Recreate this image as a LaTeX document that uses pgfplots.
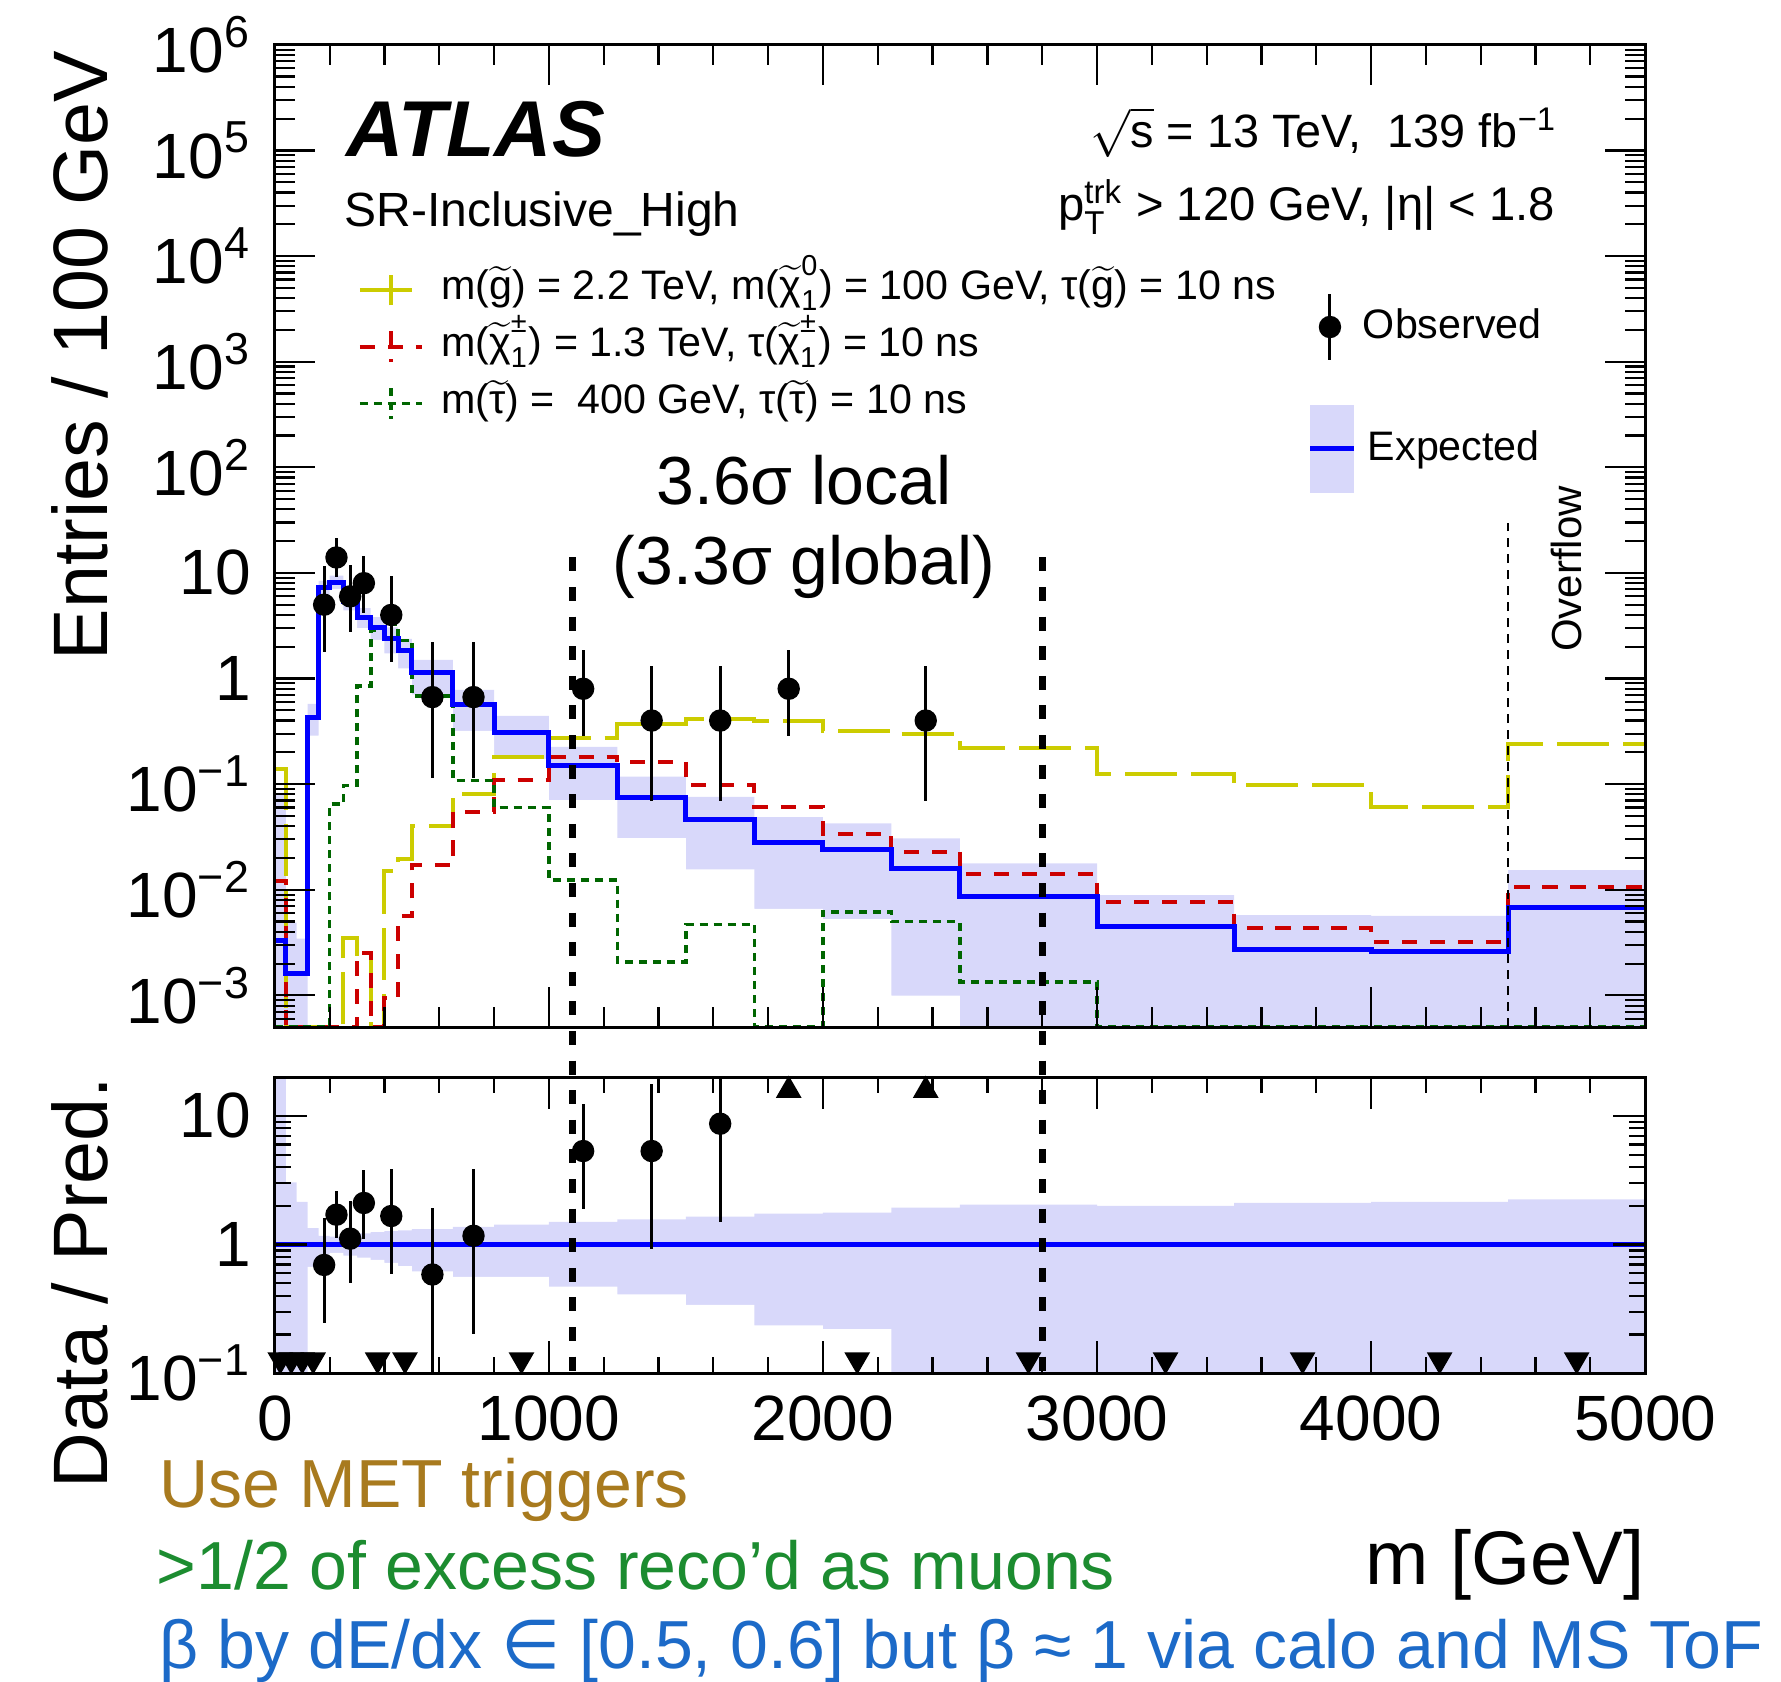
\documentclass[border=0pt]{standalone}
\usepackage{amsmath}
\usepackage{fontspec}
\setmainfont{Liberation Sans}
\newfontfamily\symfont{DejaVu Sans}
\usepackage{pgfplots}
\pgfplotsset{compat=1.18}
\usepackage{pgfplotstable}

\definecolor{bandfill}{RGB}{216,216,250}
\definecolor{sigyellow}{RGB}{204,204,0}
\definecolor{sigred}{RGB}{204,0,0}
\definecolor{siggreen}{RGB}{0,102,0}
\definecolor{txtgold}{RGB}{168,122,30}
\definecolor{txtgreen}{RGB}{28,140,48}
\definecolor{txtblue}{RGB}{28,106,200}

\newcommand\lgfont{\fontsize{10.3}{12}\selectfont}
\newcommand\sq[1]{$\widetilde{\text{#1}}$}

% bin low edges (GeV), expected yield, relative band (up/down), signals; per 100 GeV
\pgfplotstableread{
lo   exp      rup   rdn    gl      ch       st
0    0.0033   25    0.001  0.14    0.0122   0.0005
40   0.0016   3.05  0.001  0.0005  0.0005   0.0005
80   0.0016   2.15  0.001  0.0005  0.0005   0.0005
120  0.43     1.34  0.67   0.0005  0.0005   0.0005
160  7.2      1.17  0.84   0.0005  0.0005   0.0005
200  8.2      1.15  0.86   0.0005  0.0005   0.065
250  5.4      1.20  0.82   0.0035  0.0005   0.097
300  3.8      1.22  0.79   0.0023  0.0025   0.85
350  3.05     1.25  0.76   0.0005  0.0005   2.84
400  2.4      1.27  0.72   0.0151  0.00094  3.3
450  1.84     1.29  0.68   0.0195  0.0056   2.3
500  1.14     1.32  0.62   0.040   0.017    0.68
650  0.57     1.37  0.56   0.081   0.055    0.108
800  0.31     1.43  0.56   0.18    0.109    0.060
1000 0.15     1.50  0.47   0.274   0.18     0.0123
1250 0.075    1.57  0.41   0.37    0.163    0.00207
1500 0.046    1.65  0.34   0.41    0.099    0.0047
1750 0.028    1.74  0.235  0.40    0.061    0.0005
2000 0.024    1.77  0.22   0.318   0.034    0.0062
2250 0.0158   1.94  0.063  0.30    0.023    0.0050
2500 0.0087   2.04  0.001  0.218   0.0141   0.00134
3000 0.00445  2.00  0.001  0.124   0.0077   0.0005
3500 0.00273  2.11  0.001  0.0975  0.0043   0.0005
4000 0.00263  2.15  0.001  0.0607  0.0032   0.0005
4500 0.00684  2.24  0.001  0.24    0.0107   0.0005
5000 0.00684  2.24  0.001  0.24    0.0107   0.0005
}\bins

% observed entries per 100 GeV with asymmetric Poisson errors
\pgfplotstableread{
x    y      em     ep
180  5      3.23   6.6
225  14     4.84   7.54
275  6      3.27   5.84
325  8      3.82   6.32
425  4      2.58   5.28
575  0.667  0.552  1.533
725  0.667  0.552  1.533
1125 0.8    0.517  1.056
1375 0.4    0.331  0.92
1625 0.4    0.331  0.92
1875 0.8    0.517  1.056
2375 0.4    0.331  0.92
}\obs

% data / prediction
\pgfplotstableread{
x    r      em     ep
180  0.694  0.448  0.917
225  1.707  0.590  0.920
275  1.111  0.605  1.082
325  2.105  1.005  1.663
425  1.667  1.075  2.200
575  0.585  0.484  1.345
725  1.170  0.968  2.690
1125 5.333  3.446  7.040
1375 5.333  4.413  12.27
1625 8.696  7.196  20.0
}\ratiotab

% bins with no data (lower edge) and off-scale ratios (upper edge)
\pgfplotstableread{
x    y
20   0.127
60   0.127
100  0.127
140  0.127
375  0.127
475  0.127
900  0.127
2125 0.127
2750 0.127
3250 0.127
3750 0.127
4250 0.127
4750 0.127
}\dntri
\pgfplotstableread{
x    y
1875 15.8
2375 15.8
}\uptri

\begin{document}
\begin{tikzpicture}
\useasboundingbox (0,0) rectangle (445.25pt,420.5pt);

% ---------------- upper panel ----------------
\begin{axis}[
  ymode=log, log origin y=infty,
  scale only axis, width=342.6pt, height=245.6pt,
  at={(68.7pt,163.7pt)}, anchor=south west,
  xmin=0, xmax=5000, ymin=5e-4, ymax=1e6,
  axis on top,
  tick align=inside, xtick pos=both, ytick pos=both,
  axis line style={line width=0.7pt},
  every tick/.append style={line width=0.55pt, black},
  tick label style={font=\fontsize{16}{16}\selectfont},
  yticklabel style={anchor=east, inner sep=0pt, xshift=-5.75pt},
  xtick={0,1000,2000,3000,4000,5000}, minor x tick num=4,
  xticklabels={},
  ytick={1e-3,1e-2,1e-1,1,10,100,1e3,1e4,1e5,1e6},
  yticklabels={10\textsuperscript{−3},10\textsuperscript{−2},10\textsuperscript{−1},1,10,10\textsuperscript{2},10\textsuperscript{3},10\textsuperscript{4},10\textsuperscript{5},10\textsuperscript{6}},
  minor ytick={6e-4,7e-4,8e-4,9e-4,2e-3,3e-3,4e-3,5e-3,6e-3,7e-3,8e-3,9e-3,2e-2,3e-2,4e-2,5e-2,6e-2,7e-2,8e-2,9e-2,0.2,0.3,0.4,0.5,0.6,0.7,0.8,0.9,2,3,4,5,6,7,8,9,20,30,40,50,60,70,80,90,200,300,400,500,600,700,800,900,2e3,3e3,4e3,5e3,6e3,7e3,8e3,9e3,2e4,3e4,4e4,5e4,6e4,7e4,8e4,9e4,2e5,3e5,4e5,5e5,6e5,7e5,8e5,9e5},
  major tick length=10pt, minor tick length=5pt,
  legend cell align=left,
  legend style={at={(axis description cs:0.0607,0.7708)}, anchor=north west,
    draw=none, fill=none, inner sep=0pt, outer sep=0pt, row sep=4.2pt,
    font=\lgfont, nodes={inner sep=0pt, text height=7.5pt, text depth=2.5pt},
    /tikz/every odd column/.append style={column sep=4.2pt}},
]
% expected uncertainty band: filled up to the upper edge, cleared below the lower edge
\addplot[ybar interval, fill=bandfill, draw=none, forget plot]
  table[x=lo, y expr=\thisrow{exp}*\thisrow{rup}] {\bins};
\addplot[ybar interval, fill=white, draw=none, forget plot]
  table[x=lo, y expr=\thisrow{exp}*\thisrow{rdn}] {\bins};

% signal hypotheses
\addplot[sigyellow, line width=1pt, dash pattern=on 13pt off 3.5pt, const plot,
  legend image code/.code={\draw[sigyellow,line width=1pt] (0pt,0pt) -- (15.6pt,0pt); \draw[sigyellow,line width=1pt] (7.8pt,-3.85pt) -- (7.8pt,3.85pt);}]
  table[x=lo, y=gl] {\bins};
\addlegendentry{m(\sq{g}) = 2.2 TeV, m($\widetilde{\text{χ}}^{\text{0}}_{\text{1}}$) = 100 GeV, τ(\sq{g}) = 10 ns}
\addplot[sigred, line width=1pt, dash pattern=on 3.8pt off 3.2pt, const plot,
  legend image code/.code={\draw[sigred,line width=1pt,dash pattern=on 3.8pt off 3.2pt] (0pt,0pt) -- (15.6pt,0pt); \draw[sigred,line width=1pt,dash pattern=on 3.8pt off 3.2pt] (7.8pt,3.85pt) -- (7.8pt,-3.85pt);}]
  table[x=lo, y=ch] {\bins};
\addlegendentry{m($\widetilde{\text{χ}}^{\text{±}}_{\text{1}}$) = 1.3 TeV, τ($\widetilde{\text{χ}}^{\text{±}}_{\text{1}}$) = 10 ns}
\addplot[siggreen, line width=0.9pt, dash pattern=on 2pt off 1.5pt, const plot,
  legend image code/.code={\draw[siggreen,line width=0.9pt,dash pattern=on 2pt off 1.5pt] (0pt,0pt) -- (15.6pt,0pt); \draw[siggreen,line width=0.9pt,dash pattern=on 2pt off 1.5pt] (7.8pt,3.85pt) -- (7.8pt,-3.85pt);}]
  table[x=lo, y=st] {\bins};
\addlegendentry{m(\sq{τ}) =\ \ 400 GeV, τ(\sq{τ}) = 10 ns}

% expected background
\addplot[blue, line width=1.25pt, const plot, forget plot] table[x=lo, y=exp] {\bins};

% overflow marker
\addplot[black, line width=0.4pt, dash pattern=on 2.4pt off 1.6pt, forget plot] coordinates {(4500,5e-4) (4500,30)};

% observed
\addplot[black, only marks, mark=*, mark size=2.6pt, forget plot,
  error bars/.cd, y dir=both, y explicit, error mark=none,
  error bar style={line width=0.75pt, black}]
  table[x=x, y=y, y error minus=em, y error plus=ep] {\obs};

\coordinate (dAt) at (axis cs:1085,14);
\coordinate (dBt) at (axis cs:2800,14);
\end{axis}

% legend: observed
\begin{axis}[at={(68.7pt,163.7pt)}, anchor=south west, scale only axis,
  width=342.6pt, height=245.6pt, hide axis, xmin=0, xmax=1, ymin=0, ymax=1,
  legend cell align=left,
  legend style={at={(axis description cs:0.7539,0.7127)}, anchor=west,
    draw=none, fill=none, inner sep=0pt, outer sep=0pt, font=\lgfont,
    nodes={inner sep=0pt}, /tikz/every odd column/.append style={column sep=2.75pt}}]
\addlegendimage{legend image code/.code={
  \path[draw=none, fill=none] (0pt,-10.9pt) rectangle (11pt,10.9pt);
  \draw[black,line width=0.75pt] (5.5pt,-8.15pt) -- (5.5pt,8.15pt);
  \fill[black] (5.5pt,0pt) circle (2.6pt);}}
\addlegendentry{Observed}
\end{axis}

% legend: expected
\begin{axis}[at={(68.7pt,163.7pt)}, anchor=south west, scale only axis,
  width=342.6pt, height=245.6pt, hide axis, xmin=0, xmax=1, ymin=0, ymax=1,
  legend cell align=left,
  legend style={at={(axis description cs:0.7539,0.5886)}, anchor=west,
    draw=none, fill=none, inner sep=0pt, outer sep=0pt, font=\lgfont,
    nodes={inner sep=0pt}, /tikz/every odd column/.append style={column sep=2.75pt}}]
\addlegendimage{legend image code/.code={
  \fill[bandfill, draw=none] (0pt,-10.9pt) rectangle (11pt,10.9pt);
  \draw[blue,line width=1.25pt] (0pt,0pt) -- (11pt,0pt);}}
\addlegendentry{Expected}
\end{axis}

% ---------------- ratio panel ----------------
\begin{axis}[
  ymode=log, log origin y=infty,
  scale only axis, width=342.6pt, height=74pt,
  at={(68.7pt,77.2pt)}, anchor=south west,
  xmin=0, xmax=5000, ymin=0.1, ymax=20,
  axis on top,
  tick align=inside, xtick pos=both, ytick pos=both,
  axis line style={line width=0.7pt},
  every tick/.append style={line width=0.55pt, black},
  tick label style={font=\fontsize{16}{16}\selectfont},
  yticklabel style={anchor=east, inner sep=0pt, xshift=-5.75pt},
  xticklabel style={anchor=north, inner sep=0pt, yshift=-5.5pt},
  xtick={0,1000,2000,3000,4000,5000}, minor x tick num=4,
  xticklabels={0,1000,2000,3000,4000,5000},
  ytick={0.1,1,10},
  yticklabels={10\textsuperscript{−1},1,10},
  minor ytick={0.2,0.3,0.4,0.5,0.6,0.7,0.8,0.9,2,3,4,5,6,7,8,9},
  major tick length=8pt, minor tick length=4pt,
  clip mode=individual,
]
\addplot[ybar interval, fill=bandfill, draw=none] table[x=lo, y=rup] {\bins};
\addplot[ybar interval, fill=white, draw=none] table[x=lo, y=rdn] {\bins};
\addplot[blue, line width=1.25pt] coordinates {(0,1) (5000,1)};
\addplot[black, only marks, mark=*, mark size=2.6pt,
  error bars/.cd, y dir=both, y explicit, error mark=none,
  error bar style={line width=0.75pt, black}]
  table[x=x, y=r, y error minus=em, y error plus=ep] {\ratiotab};
\addplot[black, only marks, mark=triangle*, mark size=3.3pt, mark options={rotate=180}]
  table[x=x, y=y] {\dntri};
\addplot[black, only marks, mark=triangle*, mark size=3.3pt]
  table[x=x, y=y] {\uptri};
\coordinate (dAb) at (axis cs:1085,0.1);
\coordinate (dBb) at (axis cs:2800,0.1);
\end{axis}

% signal-window boundaries across both panels
\draw[black, line width=1.7pt, dash pattern=on 3.5pt off 3.9pt] (dAt) -- (dAb);
\draw[black, line width=1.7pt, dash pattern=on 3.5pt off 3.9pt] (dBt) -- (dBb);

% labels
\node[anchor=base west, font=\fontsize{19.8}{19.8}\selectfont\bfseries\itshape, inner sep=0pt] at (86.5pt,381.25pt) {ATLAS};
\node[anchor=base west, font=\fontsize{12}{12}\selectfont, inner sep=0pt] at (86pt,363.75pt) {SR-Inclusive\_High};
\node[anchor=base east, font=\fontsize{11.7}{11.7}\selectfont, inner sep=0pt] at (389.5pt,383.5pt) {$\sqrt{\text{s}}$ = 13 TeV,\ \ 139 fb\textsuperscript{−1}};
\node[anchor=base east, font=\fontsize{11.8}{11.8}\selectfont, inner sep=0pt] at (389pt,365.25pt) {$\text{p}^{\text{trk}}_{\text{T}}$ > 120 GeV, |η| < 1.8};
\node[anchor=base, font=\fontsize{17}{17}\selectfont, inner sep=0pt] at (201pt,294.25pt) {3.6σ local};
\node[anchor=base, font=\fontsize{17}{17}\selectfont, inner sep=0pt] at (201pt,274.25pt) {(3.3σ global)};
\node[anchor=base, rotate=90, font=\fontsize{10.5}{10.5}\selectfont, inner sep=0pt] at (395.25pt,278.25pt) {Overflow};

\node[anchor=base east, rotate=90, font=\fontsize{19.3}{19.3}\selectfont, inner sep=0pt] at (27pt,408pt) {Entries / 100 GeV};
\node[anchor=base east, rotate=90, font=\fontsize{19.3}{19.3}\selectfont, inner sep=0pt] at (27pt,151.5pt) {Data / Pred.};
\node[anchor=base east, font=\fontsize{19}{19}\selectfont, inner sep=0pt] at (411.3pt,24.25pt) {m [GeV]};

\node[anchor=base west, font=\fontsize{17}{17}\selectfont, text=txtgold, inner sep=0pt] at (39.75pt,43.5pt) {Use MET triggers};
\node[anchor=base west, font=\fontsize{17}{17}\selectfont, text=txtgreen, inner sep=0pt] at (39pt,23pt) {>1/2 of excess reco’d as muons};
\node[anchor=base west, font=\fontsize{17}{17}\selectfont, text=txtblue, inner sep=0pt] at (39.75pt,3.4pt) {β by dE/dx {\symfont ∈} [0.5, 0.6] but β ≈ 1 via calo and MS ToF};
\end{tikzpicture}
\end{document}
